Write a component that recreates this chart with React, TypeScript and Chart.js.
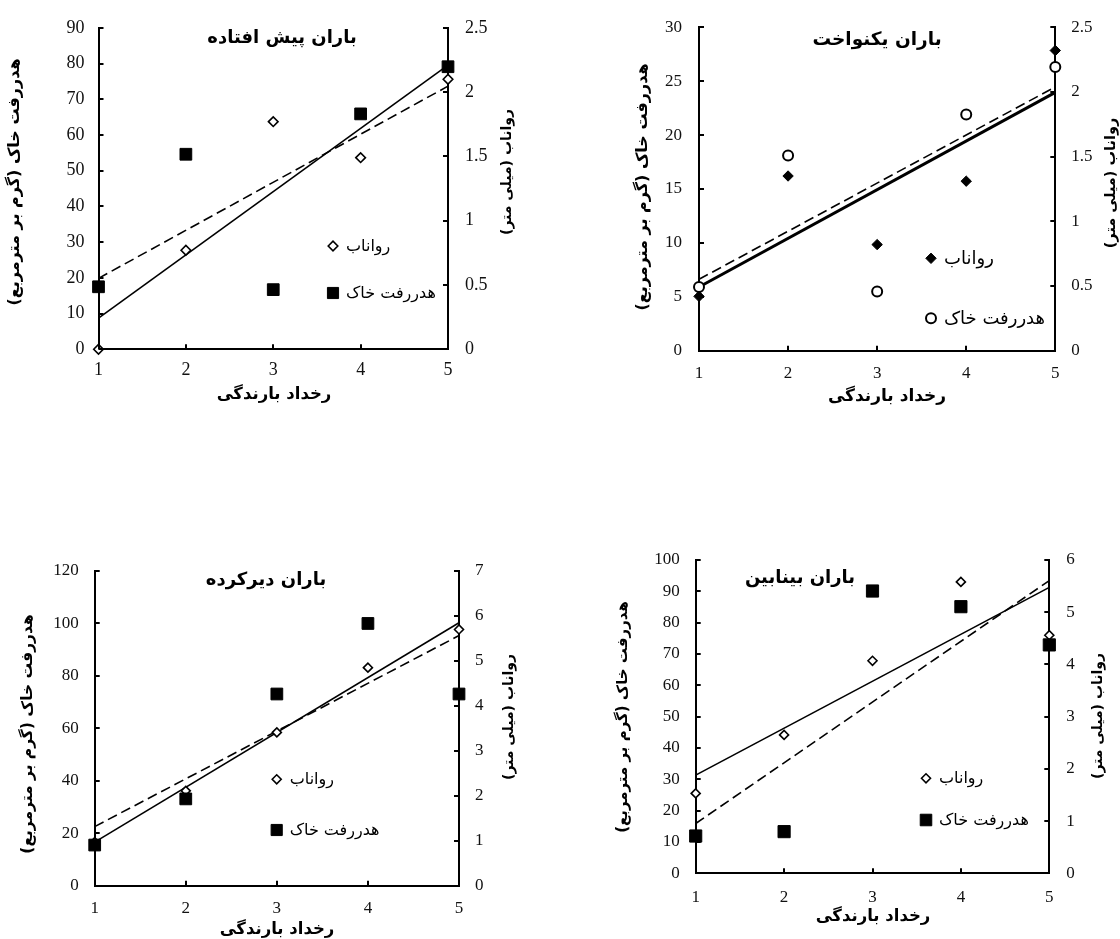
import React, { useEffect, useRef } from 'react';
import { Chart, registerables } from 'chart.js';
import { drawPoint } from 'chart.js/helpers';

Chart.register(...registerables);

// ---------- DATA ----------
const rainEvents = [1, 2, 3, 4, 5];

// باران پیش افتاده
const advancedSoilLoss = [17.5, 54.6, 16.7, 65.9, 79.1];
const advancedRunoff = [0, 0.77, 1.77, 1.49, 2.1];
// باران یکنواخت
const uniformSoilLoss = [5.9, 18.1, 5.5, 21.9, 26.3];
const uniformRunoff = [0.42, 1.35, 0.82, 1.31, 2.32];
// باران دیرکرده
const delayedSoilLoss = [15.5, 33.1, 73.1, 100, 73.1];
const delayedRunoff = [0.97, 2.11, 3.41, 4.85, 5.7];
// باران بینابین
const intermediateSoilLoss = [11.9, 13.3, 90.1, 85.1, 72.9];
const intermediateRunoff = [1.53, 2.65, 4.07, 5.58, 4.56];

const panelTitles = ['باران پیش افتاده', 'باران یکنواخت', 'باران دیرکرده', 'باران بینابین'];
const xAxisTitle = 'رخداد بارندگی';
const soilAxisTitle = 'هدررفت خاک (گرم بر مترمربع)';
const runoffAxisTitle = 'رواناب (میلی متر)';
const runoffLabel = 'رواناب';
const soilLabel = 'هدررفت خاک';

const soilAxisMax = [90, 30, 120, 100];
const soilAxisStep = [10, 5, 20, 10];
const runoffAxisMax = [2.5, 2.5, 7, 6];
const runoffAxisStep = [0.5, 0.5, 1, 1];

// ---------- LAYOUT / STYLE ----------
type PanelCfg = {
  title: string;
  soil: number[];
  runoff: number[];
  idx: number;
  canvas: [number, number, number, number];
  plot: [number, number, number, number]; // left, top, right, bottom (page px)
  tickFont: number;
  padL: number;
  padR: number;
  padX: number;
  titlePos: [number, number];
  titleFont: number;
  leftTitlePos: [number, number];
  rightTitlePos: [number, number];
  xTitlePos: [number, number];
  leftTitleFont: number;
  rightTitleFont: number;
  xTitleFont: number;
  legendX: number;
  legendY: [number, number];
  legendFont: number;
  soilStyle: string;
  soilFill: string;
  soilRadius: number;
  soilBorder: number;
  runoffFill: string;
  runoffRadius: number;
  runoffBorder: number;
  solidWidth: number;
};

const panels: PanelCfg[] = [
  {
    title: panelTitles[0], soil: advancedSoilLoss, runoff: advancedRunoff, idx: 0,
    canvas: [0, 0, 560, 420], plot: [98.5, 21.7, 448, 349.3],
    tickFont: 18, padL: 14, padR: 17, padX: 10,
    titlePos: [282, 38], titleFont: 18,
    leftTitlePos: [15, 182], rightTitlePos: [507, 172], xTitlePos: [274, 395],
    leftTitleFont: 16, rightTitleFont: 14, xTitleFont: 16.5,
    legendX: 333, legendY: [246, 293], legendFont: 16,
    soilStyle: 'rect', soilFill: '#000', soilRadius: 8.3, soilBorder: 1,
    runoffFill: '#fff', runoffRadius: 4.8, runoffBorder: 1.6, solidWidth: 1.6,
  },
  {
    title: panelTitles[1], soil: uniformSoilLoss, runoff: uniformRunoff, idx: 1,
    canvas: [560, 0, 560, 420], plot: [699, 26.7, 1055.3, 350.7],
    tickFont: 17, padL: 17, padR: 16, padX: 13,
    titlePos: [877, 40], titleFont: 18.5,
    leftTitlePos: [643, 187], rightTitlePos: [1111, 183], xTitlePos: [887, 397],
    leftTitleFont: 16, rightTitleFont: 14.5, xTitleFont: 17,
    legendX: 931, legendY: [258.3, 318.3], legendFont: 18,
    soilStyle: 'circle', soilFill: '#fff', soilRadius: 5, soilBorder: 2,
    runoffFill: '#000', runoffRadius: 5.2, runoffBorder: 1, solidWidth: 3,
  },
  {
    title: panelTitles[2], soil: delayedSoilLoss, runoff: delayedRunoff, idx: 2,
    canvas: [0, 420, 560, 519], plot: [94.7, 571, 459, 885.7],
    tickFont: 17, padL: 16, padR: 16, padX: 13,
    titlePos: [266, 580.7], titleFont: 18,
    leftTitlePos: [28, 734], rightTitlePos: [509, 717], xTitlePos: [277, 930],
    leftTitleFont: 15.5, rightTitleFont: 14, xTitleFont: 16.5,
    legendX: 276.7, legendY: [779.3, 830], legendFont: 16,
    soilStyle: 'rect', soilFill: '#000', soilRadius: 8.3, soilBorder: 1,
    runoffFill: '#fff', runoffRadius: 4.5, runoffBorder: 1.6, solidWidth: 1.6,
  },
  {
    title: panelTitles[3], soil: intermediateSoilLoss, runoff: intermediateRunoff, idx: 3,
    canvas: [560, 420, 560, 519], plot: [695.7, 560, 1049.3, 873.3],
    tickFont: 17, padL: 16, padR: 17, padX: 14,
    titlePos: [800, 578], titleFont: 18,
    leftTitlePos: [623, 717], rightTitlePos: [1098, 716], xTitlePos: [873, 917],
    leftTitleFont: 15, rightTitleFont: 14, xTitleFont: 16.5,
    legendX: 926, legendY: [778.3, 820], legendFont: 16,
    soilStyle: 'rect', soilFill: '#000', soilRadius: 8.6, soilBorder: 1,
    runoffFill: '#fff', runoffRadius: 4.5, runoffBorder: 1.6, solidWidth: 1.6,
  },
];

const Y_LEFT_W = 50;
const Y_RIGHT_W = 50;
const X_H = 40;
const SERIF = "'Liberation Serif', 'Times New Roman', serif";
const ARABIC = "'DejaVu Sans', sans-serif";

// least-squares trend line through the observed points (like a spreadsheet trendline)
function trend(xs: number[], ys: number[]) {
  const n = xs.length;
  const mx = xs.reduce((a, b) => a + b, 0) / n;
  const my = ys.reduce((a, b) => a + b, 0) / n;
  let sxy = 0;
  let sxx = 0;
  for (let i = 0; i < n; i++) {
    sxy += (xs[i] - mx) * (ys[i] - my);
    sxx += (xs[i] - mx) * (xs[i] - mx);
  }
  const b = sxy / sxx;
  const a = my - b * mx;
  const x0 = Math.min(...xs);
  const x1 = Math.max(...xs);
  return [
    { x: x0, y: a + b * x0 },
    { x: x1, y: a + b * x1 },
  ];
}

const plainNumber = (v: any) => `${+Number(v).toFixed(3)}`;

const decorPlugin = {
  id: 'decor',
  afterDraw(chart: any, _args: any, opts: any) {
    const p: PanelCfg = opts.panel;
    if (!p) return;
    const ctx: CanvasRenderingContext2D = chart.ctx;
    const ca = chart.chartArea;
    const ox = p.canvas[0];
    const oy = p.canvas[1];
    ctx.save();
    // inward tick marks
    ctx.strokeStyle = '#000';
    ctx.lineWidth = 2;
    const yl = chart.scales.ySoil;
    const yr = chart.scales.yRunoff;
    const xs = chart.scales.x;
    const TL = 5;
    ctx.beginPath();
    yl.ticks.forEach((t: any) => {
      const y = Math.round(yl.getPixelForValue(t.value));
      ctx.moveTo(ca.left, y);
      ctx.lineTo(ca.left + TL, y);
    });
    yr.ticks.forEach((t: any) => {
      const y = Math.round(yr.getPixelForValue(t.value));
      ctx.moveTo(ca.right - TL, y);
      ctx.lineTo(ca.right, y);
    });
    xs.ticks.forEach((t: any) => {
      const x = Math.round(xs.getPixelForValue(t.value));
      ctx.moveTo(x, ca.bottom);
      ctx.lineTo(x, ca.bottom - TL);
    });
    ctx.stroke();

    ctx.fillStyle = '#000';
    (ctx as any).direction = 'rtl';
    ctx.textAlign = 'center';
    ctx.textBaseline = 'middle';
    // chart title
    ctx.font = `bold ${p.titleFont}px ${ARABIC}`;
    ctx.fillText(p.title, p.titlePos[0] - ox, p.titlePos[1] - oy);
    // x axis title
    ctx.font = `bold ${p.xTitleFont}px ${ARABIC}`;
    ctx.fillText(xAxisTitle, p.xTitlePos[0] - ox, p.xTitlePos[1] - oy);
    // left axis title
    ctx.save();
    ctx.font = `bold ${p.leftTitleFont}px ${ARABIC}`;
    ctx.translate(p.leftTitlePos[0] - ox, p.leftTitlePos[1] - oy);
    ctx.rotate(-Math.PI / 2);
    ctx.fillText(soilAxisTitle, 0, 0);
    ctx.restore();
    // right axis title
    ctx.save();
    ctx.font = `bold ${p.rightTitleFont}px ${ARABIC}`;
    ctx.translate(p.rightTitlePos[0] - ox, p.rightTitlePos[1] - oy);
    ctx.rotate(-Math.PI / 2);
    ctx.fillText(runoffAxisTitle, 0, 0);
    ctx.restore();

    // legend
    const items = [
      { text: runoffLabel, style: 'rectRot', fill: p.runoffFill, r: p.runoffRadius, bw: p.runoffBorder },
      { text: soilLabel, style: p.soilStyle, fill: p.soilFill, r: p.soilStyle === 'rect' ? p.soilRadius * 0.95 : p.soilRadius, bw: p.soilBorder },
    ];
    ctx.font = `${p.legendFont}px ${ARABIC}`;
    ctx.textAlign = 'left';
    items.forEach((it, i) => {
      const mx = p.legendX - ox;
      const my = p.legendY[i] - oy;
      ctx.fillStyle = it.fill;
      ctx.strokeStyle = '#000';
      ctx.lineWidth = it.bw;
      drawPoint(ctx, { pointStyle: it.style as any, rotation: 0, radius: it.r, borderWidth: it.bw }, mx, my);
      ctx.fillStyle = '#000';
      ctx.fillText(it.text, mx + 13, my + 1);
    });
    ctx.restore();
  },
};

function PanelChart({ p }: { p: PanelCfg }) {
  const ref = useRef<HTMLCanvasElement | null>(null);
  useEffect(() => {
    if (!ref.current) return;
    const [cx, cy, cw, ch] = p.canvas;
    const [pl, pt, pr, pb] = p.plot;
    const soilPts = rainEvents.map((x, i) => ({ x, y: p.soil[i] }));
    const runoffPts = rainEvents.map((x, i) => ({ x, y: p.runoff[i] }));
    const tickFont = { family: SERIF, size: p.tickFont };
    const chart = new Chart(ref.current, {
      type: 'scatter',
      data: {
        datasets: [
          {
            label: soilLabel,
            data: soilPts,
            yAxisID: 'ySoil',
            pointStyle: p.soilStyle as any,
            pointRadius: p.soilRadius,
            pointBackgroundColor: p.soilFill,
            pointBorderColor: '#000',
            pointBorderWidth: p.soilBorder,
            showLine: false,
            clip: false as any,
          },
          {
            label: runoffLabel,
            data: runoffPts,
            yAxisID: 'yRunoff',
            pointStyle: 'rectRot',
            pointRadius: p.runoffRadius,
            pointBackgroundColor: p.runoffFill,
            pointBorderColor: '#000',
            pointBorderWidth: p.runoffBorder,
            showLine: false,
            clip: false as any,
          },
          {
            label: 'trend-soil',
            data: trend(rainEvents, p.soil),
            yAxisID: 'ySoil',
            showLine: true,
            pointRadius: 0,
            borderColor: '#000',
            borderWidth: 1.6,
            borderDash: [10, 5],
            clip: false as any,
          },
          {
            label: 'trend-runoff',
            data: trend(rainEvents, p.runoff),
            yAxisID: 'yRunoff',
            showLine: true,
            pointRadius: 0,
            borderColor: '#000',
            borderWidth: p.solidWidth,
            clip: false as any,
          },
        ],
      },
      options: {
        responsive: false,
        maintainAspectRatio: false,
        animation: false,
        devicePixelRatio: 1,
        layout: {
          padding: {
            left: pl - cx - Y_LEFT_W,
            right: cx + cw - pr - Y_RIGHT_W,
            top: pt - cy,
            bottom: cy + ch - pb - X_H,
          },
        },
        plugins: {
          legend: { display: false },
          tooltip: { enabled: false },
          title: { display: false },
          decor: { panel: p },
        } as any,
        scales: {
          x: {
            type: 'linear',
            position: 'bottom',
            min: 1,
            max: 5,
            afterFit: (s: any) => { s.height = X_H; },
            grid: { display: false, drawTicks: false },
            border: { display: true, color: '#000', width: 2 },
            ticks: { stepSize: 1, color: '#111', font: tickFont, padding: p.padX, maxRotation: 0, callback: plainNumber },
          },
          ySoil: {
            type: 'linear',
            position: 'left',
            min: 0,
            max: soilAxisMax[p.idx],
            afterFit: (s: any) => { s.width = Y_LEFT_W; },
            grid: { display: false, drawTicks: false },
            border: { display: true, color: '#000', width: 2 },
            ticks: { stepSize: soilAxisStep[p.idx], color: '#111', font: tickFont, padding: p.padL, callback: plainNumber },
          },
          yRunoff: {
            type: 'linear',
            position: 'right',
            min: 0,
            max: runoffAxisMax[p.idx],
            afterFit: (s: any) => { s.width = Y_RIGHT_W; },
            grid: { display: false, drawTicks: false },
            border: { display: true, color: '#000', width: 2 },
            ticks: { stepSize: runoffAxisStep[p.idx], color: '#111', font: tickFont, padding: p.padR, callback: plainNumber },
          },
        },
      },
      plugins: [decorPlugin],
    });
    return () => chart.destroy();
  }, [p]);
  const [cx, cy, cw, ch] = p.canvas;
  return (
    <canvas
      ref={ref}
      width={cw}
      height={ch}
      style={{ position: 'absolute', left: cx, top: cy, width: cw, height: ch }}
    />
  );
}

export default function App() {
  return (
    <div
      style={{
        position: 'absolute',
        left: 0,
        top: 0,
        width: 1120,
        height: 939,
        background: '#fff',
        overflow: 'hidden',
      }}
    >
      {panels.map((p) => (
        <PanelChart key={p.idx} p={p} />
      ))}
    </div>
  );
}
